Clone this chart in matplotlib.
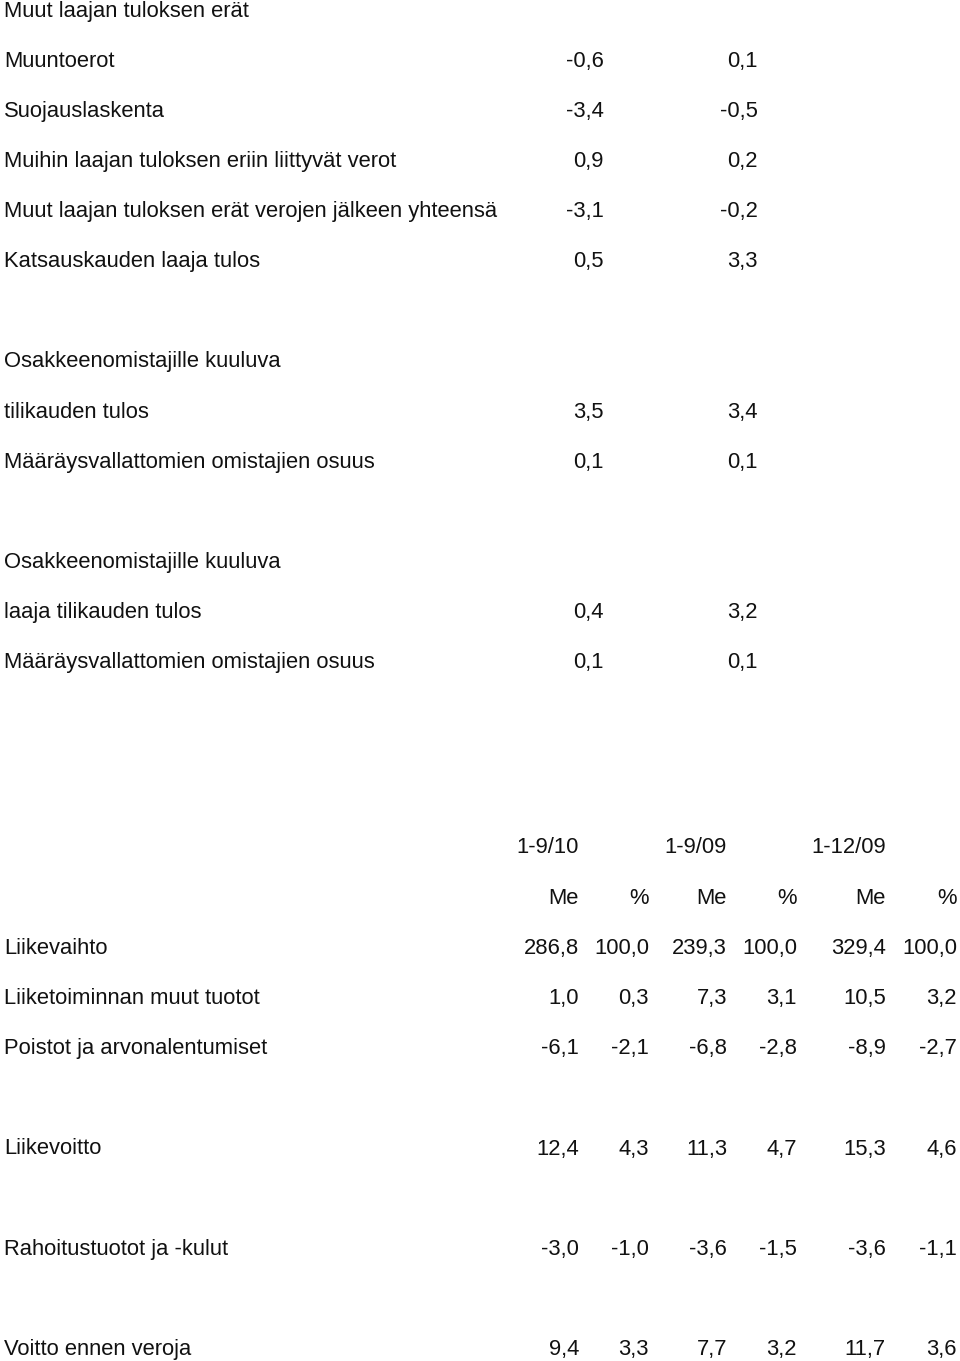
import matplotlib.pyplot as plt

plt.rcParams['font.family'] = ['Liberation Sans', 'DejaVu Sans']

# upper statement: label, 1-9/10, 1-9/09 (None = empty row)
top_labels = [
    "Muut laajan tuloksen erät",
    "Muuntoerot",
    "Suojauslaskenta",
    "Muihin laajan tuloksen eriin liittyvät verot",
    "Muut laajan tuloksen erät verojen jälkeen yhteensä",
    "Katsauskauden laaja tulos",
    None,
    "Osakkeenomistajille kuuluva",
    "tilikauden tulos",
    "Määräysvallattomien omistajien osuus",
    None,
    "Osakkeenomistajille kuuluva",
    "laaja tilikauden tulos",
    "Määräysvallattomien omistajien osuus",
]
top_col1 = ["", "-0,6", "-3,4", "0,9", "-3,1", "0,5", "", "", "3,5", "0,1", "", "", "0,4", "0,1"]
top_col2 = ["", "0,1", "-0,5", "0,2", "-0,2", "3,3", "", "", "3,4", "0,1", "", "", "3,2", "0,1"]

# lower statement
periods = ["1-9/10", "1-9/09", "1-12/09"]
units = ["Me", "%", "Me", "%", "Me", "%"]
bot_labels = [
    "Liikevaihto",
    "Liiketoiminnan muut tuotot",
    "Poistot ja arvonalentumiset",
    None,
    "Liikevoitto",
    None,
    "Rahoitustuotot ja -kulut",
    None,
    "Voitto ennen veroja",
]
bot_values = [
    ["286,8", "100,0", "239,3", "100,0", "329,4", "100,0"],
    ["1,0", "0,3", "7,3", "3,1", "10,5", "3,2"],
    ["-6,1", "-2,1", "-6,8", "-2,8", "-8,9", "-2,7"],
    None,
    ["12,4", "4,3", "11,3", "4,7", "15,3", "4,6"],
    None,
    ["-3,0", "-1,0", "-3,6", "-1,5", "-3,6", "-1,1"],
    None,
    ["9,4", "3,3", "7,7", "3,2", "11,7", "3,6"],
]

W, H = 960, 1361
fig = plt.figure(figsize=(W / 100, H / 100), dpi=100)
ax = fig.add_axes([0, 0, 1, 1])
ax.set_xlim(0, W)
ax.set_ylim(H, 0)
ax.axis('off')

fs = 15.8
kw = dict(fontsize=fs, color='#111111', va='baseline')

# upper block
y0, step = 16.7, 50.1
xr1, xr2 = 604, 758
for i, lab in enumerate(top_labels):
    if lab is None:
        continue
    y = y0 + i * step
    ax.text(4, y, lab, ha='left', **kw)
    ax.text(xr1, y, top_col1[i], ha='right', **kw)
    ax.text(xr2, y, top_col2[i], ha='right', **kw)

# lower block
yb, stepb = 853.3, 50.2
xcols = [579, 649, 727, 797, 886, 957]
for j, p in enumerate(periods):
    ax.text(xcols[2 * j], yb, p, ha='right', **kw)
for j, u in enumerate(units):
    ax.text(xcols[j], yb + stepb, u, ha='right', **kw)
for i, lab in enumerate(bot_labels):
    if lab is None:
        continue
    y = yb + (i + 2) * stepb
    ax.text(4, y, lab, ha='left', **kw)
    for j, v in enumerate(bot_values[i]):
        ax.text(xcols[j], y, v, ha='right', **kw)

fig.savefig("out.png", dpi=100, facecolor='white')
